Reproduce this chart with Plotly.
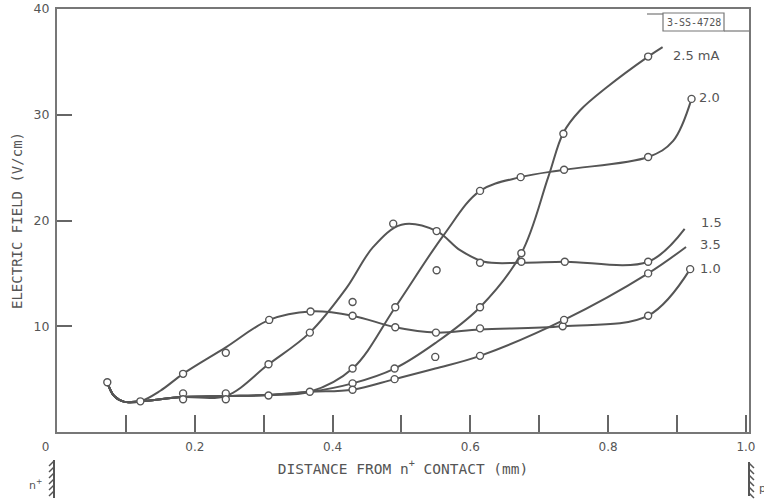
import plotly.graph_objects as go

# ---------------- data ----------------
# shared low-field baseline near the n+ contact
base_x = [0.073, 0.083, 0.098, 0.121, 0.183, 0.245, 0.307, 0.367]
base_y = [4.7, 3.4, 2.85, 2.9, 3.3, 3.4, 3.5, 3.8]

# hand-drawn curves for each current (mA)
curve_10_x = base_x[:4] + [0.15, 0.183, 0.245, 0.308, 0.368, 0.429, 0.491, 0.550, 0.614, 0.734, 0.858, 0.919]
curve_10_y = base_y[:4] + [3.9, 5.5, 8.0, 10.6, 11.4, 11.0, 9.9, 9.4, 9.7, 10.0, 11.0, 15.4]

curve_15_x = base_x[:6] + [0.307, 0.367, 0.42, 0.459, 0.50, 0.551, 0.585, 0.62, 0.674, 0.737, 0.858, 0.911]
curve_15_y = base_y[:6] + [6.4, 9.4, 13.6, 17.5, 19.6, 19.0, 17.2, 16.1, 16.0, 16.1, 16.1, 19.2]

curve_20_x = base_x + [0.429, 0.491, 0.561, 0.614, 0.673, 0.736, 0.858, 0.894, 0.921]
curve_20_y = base_y + [6.0, 11.8, 18.6, 22.8, 24.1, 24.8, 26.0, 27.5, 31.5]

curve_25_x = base_x + [0.429, 0.490, 0.549, 0.614, 0.674, 0.713, 0.735, 0.759, 0.798, 0.858, 0.879]
curve_25_y = base_y + [4.6, 6.0, 8.4, 11.8, 16.9, 24.1, 28.3, 30.4, 32.6, 35.5, 36.4]

curve_35_x = base_x + [0.429, 0.490, 0.549, 0.614, 0.736, 0.858, 0.913]
curve_35_y = base_y + [4.0, 5.0, 6.0, 7.2, 10.6, 15.0, 17.5]

# measured points (open circles)
pts_10_x = [0.073, 0.121, 0.183, 0.245, 0.308, 0.368, 0.429, 0.491, 0.550, 0.614, 0.734, 0.858, 0.919]
pts_10_y = [4.7, 2.9, 5.5, 7.5, 10.6, 11.4, 11.0, 9.9, 9.4, 9.8, 10.0, 11.0, 15.4]
pts_15_x = [0.183, 0.245, 0.307, 0.367, 0.429, 0.488, 0.551, 0.551, 0.614, 0.674, 0.737, 0.858]
pts_15_y = [3.65, 3.65, 6.4, 9.4, 12.3, 19.7, 19.0, 15.3, 16.0, 16.1, 16.1, 16.1]
pts_20_x = [0.183, 0.245, 0.307, 0.429, 0.491, 0.614, 0.673, 0.736, 0.858, 0.921]
pts_20_y = [3.1, 3.1, 3.45, 6.0, 11.8, 22.8, 24.1, 24.8, 26.0, 31.5]
pts_25_x = [0.367, 0.429, 0.490, 0.549, 0.614, 0.674, 0.735, 0.858]
pts_25_y = [3.8, 4.6, 6.0, 7.1, 11.8, 16.9, 28.2, 35.5]
pts_35_x = [0.429, 0.490, 0.614, 0.736, 0.858]
pts_35_y = [4.0, 5.0, 7.2, 10.6, 15.0]

curve_labels = ["2.5 mA", "2.0", "1.5", "3.5", "1.0"]
label_x = [0.891, 0.929, 0.932, 0.930, 0.930]
label_y = [35.6, 31.6, 19.8, 17.7, 15.5]

x_ticks = [0.0, 0.1, 0.2, 0.3, 0.4, 0.5, 0.6, 0.7, 0.8, 0.9, 1.0]
x_tick_text = ["0\u00a0\u00a0\u00a0\u00a0\u00a0\u00a0", " ", "0.2", " ", "0.4", " ", "0.6", " ", "0.8", " ", "1.0"]
y_ticks = [10, 20, 30, 40]

# ---------------- figure ----------------
W, H = 764, 501
L, R, T, B = 57, 15, 9, 69
PW, PH = W - L - R, H - T - B
INK = "#555555"
FONT = "DejaVu Sans"
MONO = "DejaVu Sans Mono"

fig = go.Figure()

curves = [(curve_10_x, curve_10_y), (curve_15_x, curve_15_y), (curve_20_x, curve_20_y),
          (curve_25_x, curve_25_y), (curve_35_x, curve_35_y)]
for cx, cy in curves:
    fig.add_trace(go.Scatter(x=cx, y=cy, mode="lines",
                             line=dict(color=INK, width=2, shape="spline", smoothing=1.0),
                             hoverinfo="skip", showlegend=False))

pts = [(pts_10_x, pts_10_y), (pts_15_x, pts_15_y), (pts_20_x, pts_20_y),
       (pts_25_x, pts_25_y), (pts_35_x, pts_35_y)]
for px_, py_ in pts:
    fig.add_trace(go.Scatter(x=px_, y=py_, mode="markers",
                             marker=dict(symbol="circle", size=7, color="white",
                                         line=dict(color=INK, width=1.4)),
                             showlegend=False))

for t, lx, ly in zip(curve_labels, label_x, label_y):
    fig.add_annotation(x=lx, y=ly, text=t, showarrow=False, xanchor="left", yanchor="middle",
                       font=dict(family=FONT, size=13, color=INK))


def ppx(p):
    return (p - L) / PW


def ppy(p):
    return (H - B - p) / PH


shapes = []
# stamp box with its extension lines
shapes.append(dict(type="rect", xref="paper", yref="paper", x0=ppx(663), x1=ppx(724), y0=ppy(31), y1=ppy(13),
                   line=dict(color="#777", width=1.2)))
shapes.append(dict(type="line", xref="paper", yref="paper", x0=ppx(647), x1=ppx(663), y0=ppy(14), y1=ppy(14),
                   line=dict(color="#777", width=1.2)))
shapes.append(dict(type="line", xref="paper", yref="paper", x0=ppx(724), x1=ppx(749), y0=ppy(31), y1=ppy(31),
                   line=dict(color="#777", width=1.2)))

# contacts (hatched)
shapes.append(dict(type="line", xref="paper", yref="paper", x0=ppx(54), x1=ppx(54), y0=ppy(460), y1=ppy(498),
                   line=dict(color=INK, width=2)))
for yy in range(461, 497, 6):
    shapes.append(dict(type="line", xref="paper", yref="paper", x0=ppx(54), x1=ppx(49), y0=ppy(yy), y1=ppy(yy + 5),
                       line=dict(color=INK, width=1.5)))
shapes.append(dict(type="line", xref="paper", yref="paper", x0=ppx(749), x1=ppx(749), y0=ppy(462), y1=ppy(496),
                   line=dict(color=INK, width=2)))
for yy in range(463, 495, 6):
    shapes.append(dict(type="line", xref="paper", yref="paper", x0=ppx(749), x1=ppx(754), y0=ppy(yy), y1=ppy(yy + 5),
                       line=dict(color=INK, width=1.5)))
fig.update_layout(shapes=shapes)

fig.add_annotation(xref="paper", yref="paper", x=ppx(693.5), y=ppy(22), text="3-SS-4728", showarrow=False,
                   xanchor="center", yanchor="middle", font=dict(family=MONO, size=10, color=INK))
fig.add_annotation(xref="paper", yref="paper", x=ppx(44), y=ppy(484), text="n<sup>+</sup>", showarrow=False,
                   xanchor="right", yanchor="middle", font=dict(family=FONT, size=11, color=INK))
fig.add_annotation(xref="paper", yref="paper", x=ppx(757), y=ppy(487), text="p<sup>+</sup>", showarrow=False,
                   xanchor="left", yanchor="middle", font=dict(family=FONT, size=11, color=INK))

fig.update_layout(
    width=W, height=H,
    margin=dict(l=L, r=R, t=T, b=B, autoexpand=False),
    paper_bgcolor="white", plot_bgcolor="white",
    showlegend=False,
    xaxis=dict(range=[0, 1.0044], tickvals=x_ticks, ticktext=x_tick_text, ticks="inside", ticklen=17,
               tickwidth=1.5, tickcolor="#666", showline=True, linecolor="#777", linewidth=2, mirror=True,
               showgrid=False, zeroline=False, automargin=False, ticklabelstandoff=3,
               tickfont=dict(family=FONT, size=12, color=INK),
               title=dict(text="DISTANCE FROM n<sup>+</sup> CONTACT (mm)", standoff=10,
                          font=dict(family=MONO, size=14.5, color=INK))),
    yaxis=dict(range=[0, 40], tickvals=y_ticks, ticks="inside", ticklen=15, tickwidth=1.5, tickcolor="#666",
               showline=True, linecolor="#777", linewidth=2, mirror=True, showgrid=False, zeroline=False,
               automargin=False, ticklabelstandoff=3,
               tickfont=dict(family=FONT, size=12.5, color=INK),
               title=dict(text="ELECTRIC FIELD (V/cm)", standoff=8,
                          font=dict(family=MONO, size=14, color=INK))),
)

fig.write_html("out.html")
